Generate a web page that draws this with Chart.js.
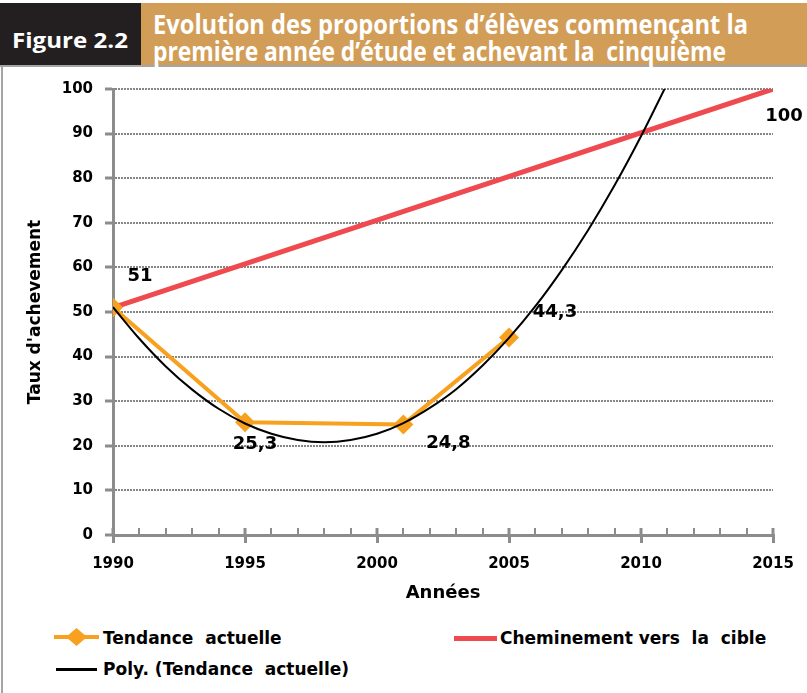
<!DOCTYPE html>
<html>
<head>
<meta charset="utf-8">
<script src="https://cdn.jsdelivr.net/npm/chart.js@4.4.1/dist/chart.umd.min.js"></script>
<style>
  body { margin: 0; width: 807px; height: 693px; position: relative; overflow: hidden; background: #fff; }
  #fig { position: absolute; left: 0; top: 3px; width: 141px; height: 62px; background: #231f20; }
  #band { position: absolute; left: 141px; top: 3px; width: 666px; height: 62px; background: #d29d57; }
  #rule { position: absolute; left: 0; top: 65px; width: 807px; height: 2px; background: #a5a5a5; }
  #side { position: absolute; left: 1px; top: 65px; width: 2px; height: 628px; background: #a5a5a5; }
  .h { position: absolute; color: #fff; font-family: "Liberation Sans Narrow", "Open Sans", sans-serif;
       font-weight: bold; white-space: pre; line-height: 1; transform-origin: 0 0; }
  canvas { position: absolute; left: 0; top: 67px; }
  .lg { position: absolute; font-family: "DejaVu Sans", sans-serif; font-weight: bold; font-size: 17px;
        color: #000; white-space: pre; line-height: 1; }
  .ln { position: absolute; }
</style>
</head>
<body>
<div id="fig"></div>
<div id="band"></div>
<div id="rule"></div>
<div id="side"></div>
<div class="h" data-w="116" style="left:12px;top:30px;font-size:21px">Figure 2.2</div>
<div class="h" data-w="595" style="left:153px;top:11px;font-size:26px">Evolution des proportions d’élèves commençant la</div>
<div class="h" data-w="573" style="left:153px;top:38px;font-size:26px">première année d’étude et achevant la  cinquième</div>

<canvas id="chart" width="807" height="560"></canvas>

<div class="ln" style="left:54px;top:635px;width:45px;height:4px;background:#f7a11e"></div>
<div class="ln" style="left:66px;top:628px;width:21px;height:18px;background:#f7a11e;clip-path:polygon(50% 0,100% 50%,50% 100%,0 50%)"></div>
<div class="lg" style="left:103px;top:630px">Tendance  actuelle</div>
<div class="ln" style="left:454px;top:636px;width:43px;height:5px;background:#ef4a4f"></div>
<div class="lg" style="left:500px;top:630px">Cheminement vers  la  cible</div>
<div class="ln" style="left:56px;top:668px;width:41px;height:3px;background:#000"></div>
<div class="lg" style="left:103px;top:661px">Poly. (Tendance  actuelle)</div>

<script>
// valeurs
const annees = [1990, 1995, 2001, 2005];
const tendance = [51, 25.3, 24.8, 44.3];

const cibleAnnees = [1990, 2015];
const cible = [51, 100];

// courbe de tendance polynomiale (estimée point par point)
const polyAnnees = [1990, 1991, 1992, 1993, 1994, 1995, 1996, 1997, 1998, 1999, 2000,
                    2001, 2002, 2003, 2004, 2005, 2006, 2007, 2008, 2009, 2010, 2011];
const polyValeurs = [51.1, 44.0, 37.8, 32.6, 28.3, 25.0, 22.7, 21.3, 20.8, 21.3, 22.7,
                     25.1, 28.5, 32.7, 38.0, 44.2, 51.3, 59.4, 68.4, 78.4, 89.4, 101.3];

const xTicks = [1990, 1995, 2000, 2005, 2010, 2015];
const yTicks = [0, 10, 20, 30, 40, 50, 60, 70, 80, 90, 100];

// ajuste la largeur des textes d'en-tete
document.querySelectorAll(".h").forEach((el) => {
  const w = el.getBoundingClientRect().width;
  el.style.transform = `scaleX(${el.dataset.w / w})`;
});

const FONT = '"DejaVu Sans", sans-serif';
const GRIS = "#8c8c8c";
const fmt = (v) => String(v).replace(".", ",");
const pts = (xs, ys) => xs.map((x, i) => ({ x: x, y: ys[i] }));

const petitsTraits = {
  id: "petitsTraits",
  afterDraw(chart) {
    const { ctx, scales: { x } } = chart;
    ctx.save();
    ctx.strokeStyle = GRIS;
    for (let a = x.min; a <= x.max; a++) {
      ctx.lineWidth = a % 5 === 0 ? 3 : 2;
      const px = Math.round(x.getPixelForValue(a));
      ctx.beginPath();
      ctx.moveTo(px, x.top);
      ctx.lineTo(px, x.top - 7);
      ctx.stroke();
    }
    ctx.restore();
  }
};

const etiquettes = {
  id: "etiquettes",
  afterDatasetsDraw(chart) {
    const { ctx, scales: { x, y } } = chart;
    const dec = [[27, -31], [10, 22], [45, 19], [46, -25]];
    ctx.save();
    ctx.font = "bold 18px " + FONT;
    ctx.fillStyle = "#000";
    ctx.textAlign = "center";
    ctx.textBaseline = "middle";
    annees.forEach((a, i) => {
      ctx.fillText(fmt(tendance[i]), x.getPixelForValue(a) + dec[i][0], y.getPixelForValue(tendance[i]) + dec[i][1]);
    });
    const n = cible.length - 1;
    ctx.fillText(fmt(cible[n]), x.getPixelForValue(cibleAnnees[n]) + 11, y.getPixelForValue(cible[n]) + 27);
    ctx.restore();
  }
};

new Chart(document.getElementById("chart"), {
  type: "line",
  data: {
    datasets: [
      {
        label: "Poly. (Tendance actuelle)",
        data: pts(polyAnnees, polyValeurs),
        borderColor: "#000",
        borderWidth: 2,
        pointRadius: 0,
        cubicInterpolationMode: "monotone",
        order: 1
      },
      {
        label: "Tendance actuelle",
        data: pts(annees, tendance),
        borderColor: "#f7a11e",
        backgroundColor: "#f7a11e",
        borderWidth: 4,
        pointStyle: "rectRot",
        pointRadius: 10,
        pointBorderWidth: 0,
        order: 2
      },
      {
        label: "Cheminement vers la cible",
        data: pts(cibleAnnees, cible),
        borderColor: "#ef4a4f",
        borderWidth: 5,
        pointRadius: 0,
        order: 3
      }
    ]
  },
  options: {
    responsive: false,
    animation: false,
    layout: { padding: { top: 22, right: 34, left: 0, bottom: 0 } },
    plugins: { legend: { display: false }, tooltip: { enabled: false } },
    scales: {
      x: {
        type: "linear",
        min: xTicks[0],
        max: xTicks[xTicks.length - 1],
        afterFit: (s) => { s.height = 92; },
        afterBuildTicks: (s) => { s.ticks = xTicks.map((v) => ({ value: v })); },
        ticks: { callback: (v) => String(v), color: "#000", font: { family: FONT, weight: "bold", size: 15 }, padding: 12, maxRotation: 0 },
        grid: { drawOnChartArea: false, color: GRIS, lineWidth: 3, tickLength: 8 },
        border: { color: GRIS, width: 3 },
        title: { display: true, text: "Années", color: "#000", font: { family: FONT, weight: "bold", size: 18 }, padding: { bottom: 23 } }
      },
      y: {
        min: yTicks[0],
        max: yTicks[yTicks.length - 1],
        afterFit: (s) => { s.width = 113; },
        afterBuildTicks: (s) => { s.ticks = yTicks.map((v) => ({ value: v })); },
        ticks: { callback: (v) => String(v), color: "#000", font: { family: FONT, weight: "bold", size: 15 }, padding: 12 },
        grid: { color: "#858585", lineWidth: 2, tickLength: 8, tickColor: GRIS, tickWidth: 3, tickBorderDash: [100, 0] },
        border: { color: GRIS, width: 3, dash: [2, 1] },
        title: { display: true, text: "Taux d'achevement", color: "#000", font: { family: FONT, weight: "bold", size: 17 }, padding: { top: 25 } }
      }
    }
  },
  plugins: [petitsTraits, etiquettes]
});
</script>
</body>
</html>
